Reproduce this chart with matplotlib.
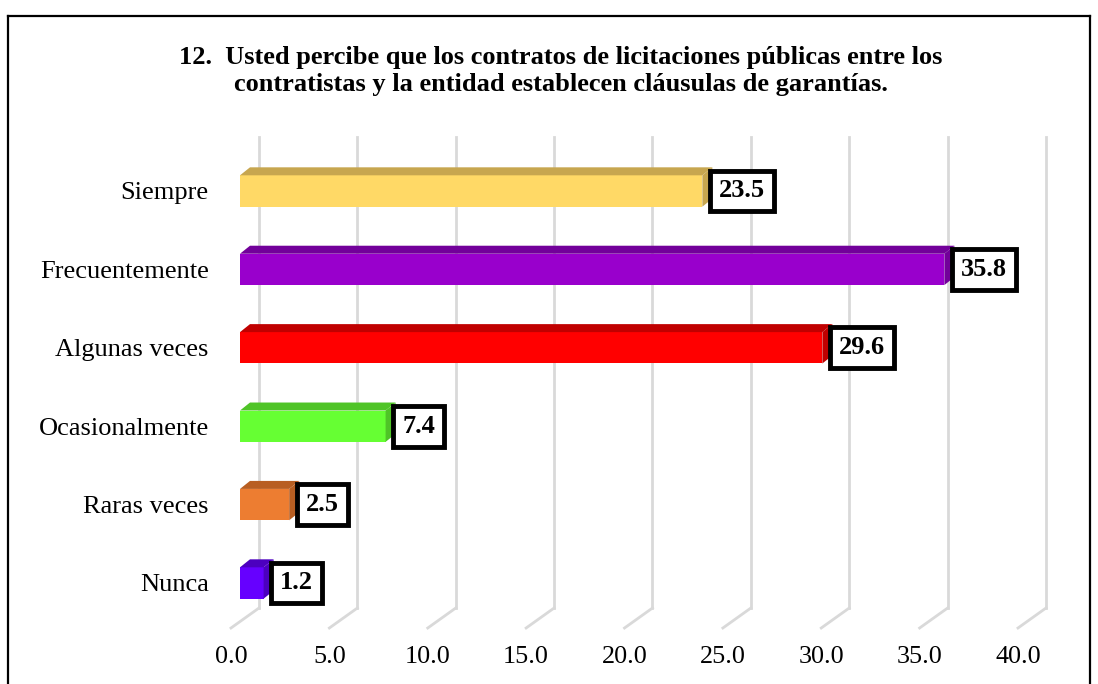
import numpy as np
import matplotlib
matplotlib.use("Agg")
import matplotlib.pyplot as plt
from matplotlib.patches import Polygon
from matplotlib.lines import Line2D

plt.rcParams['font.family'] = ['Liberation Serif', 'DejaVu Serif']

# data (bottom to top)
categories = ["Nunca", "Raras veces", "Ocasionalmente", "Algunas veces",
              "Frecuentemente", "Siempre"]
values = [1.2, 2.5, 7.4, 29.6, 35.8, 23.5]
front_colors = ["#6600FF", "#ED7D31", "#66FF33", "#FF0000", "#9900CC", "#FFD966"]
top_colors = ["#4C00BF", "#B85E22", "#4FC427", "#C00000", "#72009A", "#C7A64F"]
x_ticks = [0, 5, 10, 15, 20, 25, 30, 35, 40]
title = ("12.  Usted percibe que los contratos de licitaciones públicas entre los\n"
         "contratistas y la entidad establecen cláusulas de garantías.")

W, H = 1098, 684
fig = plt.figure(figsize=(W / 100, H / 100), dpi=100)

# front plane: x 0..40 -> px 231..1018, floor at px 628
ylo, yhi = -0.574, 5.9
ax = fig.add_axes([231 / W, (H - 628) / H, 787 / W, (yhi - ylo) * 78.4 / H])
ax.set_xlim(0, 40)
ax.set_ylim(ylo, yhi)
for s in ax.spines.values():
    s.set_visible(False)

# 3d depth offsets (data units)
dx_full, dy_full = 1.423, 0.255
bx0, bdx, bdy = 0.457, 0.508, 0.102
half = 0.2
wall_top = 5.689

# back wall gridlines and floor diagonals
for v in x_ticks:
    ax.plot([v + dx_full, v + dx_full], [ylo + dy_full, wall_top],
            color="#D9D9D9", lw=2, zorder=1, clip_on=False)
    ax.plot([v, v + dx_full], [ylo, ylo + dy_full],
            color="#D9D9D9", lw=2, zorder=1, clip_on=False)

y = np.arange(len(categories))
ax.barh(y, values, height=2 * half, left=bx0, color=front_colors, zorder=3)

for i, v in enumerate(values):
    x1 = bx0 + v
    top = Polygon([(bx0, i + half), (x1, i + half), (x1 + bdx, i + half + bdy),
                   (bx0 + bdx, i + half + bdy)], closed=True,
                  facecolor=top_colors[i], edgecolor="none", zorder=3)
    side = Polygon([(x1, i - half), (x1, i + half), (x1 + bdx, i + half + bdy),
                    (x1 + bdx, i - half + bdy)], closed=True,
                   facecolor=top_colors[i], edgecolor="none", zorder=3)
    ax.add_patch(top)
    ax.add_patch(side)
    ax.annotate(f"{v:.1f}", xy=(x1, i), xytext=(12, 0), textcoords="offset points",
                ha="left", va="center", fontsize=19, fontweight="bold",
                zorder=5, annotation_clip=False,
                bbox=dict(boxstyle="square,pad=0.34", facecolor="white",
                          edgecolor="black", lw=3.5))

ax.set_yticks(y)
ax.set_yticklabels(categories, fontsize=19)
ax.set_xticks(x_ticks)
ax.set_xticklabels([f"{t:.1f}" for t in x_ticks], fontsize=18.8)
ax.tick_params(axis="y", length=0, pad=16)
ax.tick_params(axis="x", length=0, pad=13)

fig.text(561 / W, 1 - 71 / H, title, ha="center", va="center", fontsize=19,
         fontweight="bold", linespacing=1.25)

# outer frame (bottom edge falls outside the picture)
fl, ft, fr = 8 / W, 1 - 16 / H, 1090 / W
for xs, ys in [([fl, fl], [0, ft]), ([fl, fr], [ft, ft]), ([fr, fr], [ft, 0])]:
    fig.add_artist(Line2D(xs, ys, color="black", lw=1.6))

fig.savefig("out.png", dpi=100)
